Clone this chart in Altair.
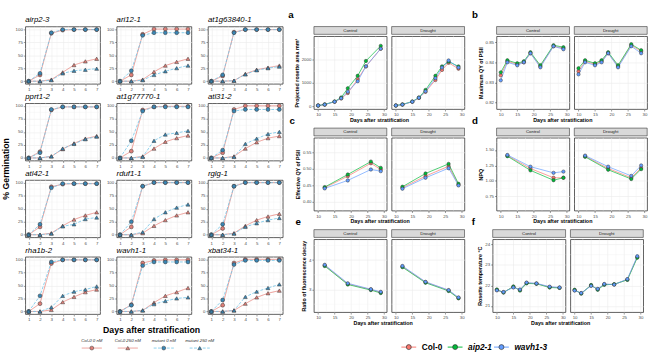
import altair as alt
import pandas as pd

FONT = "Liberation Sans"

# ---------------- germination data (left block) ----------------
days = [1, 2, 3, 4, 5, 6, 7]
days_minor = [1.5, 2.5, 3.5, 4.5, 5.5, 6.5]
pct_ticks = [0, 25, 50, 75, 100]
pct_minor = [12.5, 37.5, 62.5, 87.5]
mutants = ["airp2-3", "ari12-1", "at1g63840-1",
           "pprt1-2", "at1g77770-1", "atl31-2",
           "atl42-1", "rduf1-1", "rglg-1",
           "rha1b-2", "wavh1-1", "xbat34-1"]
series_names = ["Col-0 0 nM", "Col-0 250 nM", "mutant 0 nM", "mutant 250 nM"]

col0_0nM = [
    [0, 12, 92, 98, 99, 99, 99], [0, 12, 90, 100, 100, 100, 100], [0, 10, 94, 99, 99, 99, 99],
    [0, 12, 92, 98, 98, 98, 98], [0, 13, 92, 98, 99, 99, 99], [0, 10, 93, 100, 100, 100, 100],
    [0, 15, 92, 97, 98, 98, 98], [0, 15, 93, 100, 100, 100, 100], [0, 12, 93, 100, 100, 100, 100],
    [0, 15, 92, 99, 99, 99, 99], [0, 13, 93, 98, 99, 99, 99], [0, 12, 93, 100, 100, 100, 100]]
col0_250nM = [
    [0, 0, 3, 17, 31, 38, 43], [0, 0, 3, 18, 30, 37, 43], [0, 0, 1, 14, 22, 26, 30],
    [0, 0, 3, 17, 28, 37, 42], [0, 0, 3, 18, 31, 38, 43], [0, 0, 3, 18, 30, 38, 42],
    [0, 0, 3, 17, 29, 37, 43], [0, 0, 3, 17, 28, 37, 43], [0, 0, 3, 17, 28, 35, 40],
    [0, 0, 3, 18, 28, 37, 42], [0, 0, 2, 17, 30, 37, 45], [0, 0, 2, 15, 27, 35, 40]]
mut_0nM = [
    [0, 15, 93, 99, 99, 99, 99], [0, 20, 88, 93, 93, 93, 93], [0, 12, 93, 99, 99, 99, 99],
    [0, 10, 93, 98, 98, 98, 98], [0, 33, 90, 98, 98, 98, 98], [0, 15, 90, 93, 93, 93, 93],
    [0, 20, 90, 98, 98, 98, 98], [0, 25, 93, 100, 100, 100, 100], [0, 20, 93, 100, 100, 100, 100],
    [0, 30, 95, 99, 99, 99, 99], [0, 12, 88, 95, 95, 95, 95], [0, 22, 90, 98, 98, 98, 98]]
mut_250nM = [
    [0, 0, 2, 15, 20, 22, 24], [0, 0, 2, 12, 19, 25, 30], [0, 0, 1, 13, 21, 25, 28],
    [0, 0, 3, 18, 27, 36, 41], [0, 0, 2, 33, 45, 48, 52], [0, 0, 2, 27, 37, 46, 50],
    [0, 0, 2, 16, 20, 30, 33], [0, 0, 5, 30, 43, 52, 58], [0, 0, 2, 15, 22, 28, 32],
    [0, 0, 8, 30, 38, 42, 48], [0, 0, 2, 14, 20, 25, 27], [0, 0, 2, 28, 38, 45, 52]]

# ---------------- phenotyping data (right block) ----------------
genotypes = ["Col-0", "aip2-1", "wavh1-3"]
day_ticks = [10, 15, 20, 25, 30]
day_minor = [12.5, 17.5, 22.5, 27.5]

area_days_ctrl = [10, 12, 15, 17, 19, 22, 24.5, 29]
area_ctrl = [[40, 80, 200, 340, 570, 1150, 1700, 2450],
             [40, 85, 210, 380, 770, 1300, 1930, 2570],
             [40, 80, 200, 350, 620, 1070, 1700, 2450]]
area_days_dr = [10, 12, 15, 17, 19, 22, 24, 26, 29]
area_dr = [[40, 80, 200, 360, 620, 1120, 1550, 1850, 1600],
           [40, 85, 210, 380, 700, 1300, 1700, 1900, 1700],
           [40, 80, 200, 370, 640, 1200, 1650, 1950, 1650]]
area_ticks, area_minor = [0, 1000, 2000], [500, 1500, 2500]

fvfm_days = [10, 12, 15, 17, 19, 22, 26, 29]
fvfm_ctrl = [[0.8335, 0.8405, 0.8390, 0.8400, 0.8445, 0.8380, 0.8480, 0.8470],
             [0.8350, 0.8410, 0.8395, 0.8405, 0.8450, 0.8385, 0.8485, 0.8475],
             [0.8310, 0.8400, 0.8385, 0.8400, 0.8445, 0.8375, 0.8480, 0.8465]]
fvfm_dr = [[0.8355, 0.8405, 0.8390, 0.8405, 0.8445, 0.8380, 0.8485, 0.8455],
           [0.8370, 0.8410, 0.8395, 0.8410, 0.8450, 0.8385, 0.8490, 0.8460],
           [0.8340, 0.8400, 0.8385, 0.8400, 0.8445, 0.8375, 0.8480, 0.8445]]
fvfm_ticks, fvfm_minor = [0.82, 0.83, 0.84, 0.85], [0.825, 0.835, 0.845]

fl_days = [12, 19, 26, 29]
qy_ctrl = [[0.443, 0.478, 0.517, 0.498],
           [0.445, 0.483, 0.522, 0.503],
           [0.441, 0.465, 0.498, 0.493]]
qy_dr = [[0.443, 0.478, 0.508, 0.452],
         [0.446, 0.486, 0.515, 0.455],
         [0.440, 0.473, 0.502, 0.450]]
qy_ticks, qy_minor = [0.40, 0.45, 0.50, 0.55], [0.425, 0.475, 0.525, 0.575]
npq_ctrl = [[1.41, 1.20, 1.05, 1.05],
            [1.40, 1.17, 1.01, 1.05],
            [1.42, 1.23, 1.13, 1.15]]
npq_dr = [[1.40, 1.20, 1.05, 1.21],
          [1.39, 1.18, 1.03, 1.19],
          [1.41, 1.23, 1.08, 1.25]]
npq_ticks, npq_minor = [0.75, 1.00, 1.25, 1.50], [0.625, 0.875, 1.125, 1.375, 1.625]
rfd_ctrl = [[3.82, 3.19, 3.00, 2.90],
            [3.80, 3.17, 2.98, 2.88],
            [3.84, 3.21, 3.01, 2.92]]
rfd_dr = [[3.78, 3.25, 2.97, 2.71],
          [3.76, 3.23, 2.95, 2.70],
          [3.80, 3.26, 2.98, 2.73]]
rfd_ticks, rfd_minor = [3, 4], [2.5, 3.5, 4.5]

temp_days = [10, 12, 15, 17, 19, 22, 26, 29]
temp_ctrl = [[21.78, 21.67, 21.93, 21.78, 22.12, 22.09, 21.92, 21.89],
             [21.80, 21.65, 21.95, 21.75, 22.10, 22.08, 21.90, 21.88],
             [21.76, 21.68, 21.90, 21.80, 22.14, 22.10, 21.94, 21.90]]
temp_dr = [[21.77, 21.62, 22.00, 21.81, 22.05, 22.05, 22.29, 23.38],
           [21.79, 21.60, 22.02, 21.79, 22.03, 22.06, 22.27, 23.35],
           [21.75, 21.63, 21.98, 21.83, 22.07, 22.04, 22.31, 23.42]]
temp_ticks, temp_minor = [21, 22, 23, 24], [21.5, 22.5, 23.5]

# ---------------- styles ----------------
germ_line = ["#E8837B", "#E8837B", "#6EC3E8", "#6EC3E8"]
germ_fill = ["#DE7F78", "#DE7F78", "#3A86B4", "#3A86B4"]
germ_shape = ["circle", "triangle-up", "circle", "triangle-up"]
germ_dash = [[1, 0], [1, 0], [3, 1.5], [3, 1.5]]
geno_colors = ["#F8766D", "#00BA38", "#619CFF"]
MINOR = "#F2F2F2"

s_col = alt.Scale(domain=series_names, range=germ_line)
s_fill = alt.Scale(domain=series_names, range=germ_fill)
s_shape = alt.Scale(domain=series_names, range=germ_shape)
s_dash = alt.Scale(domain=series_names, range=germ_dash)
g_col = alt.Scale(domain=genotypes, range=geno_colors)

LW, LH = 77, 59


def minor_grid(xfield, xvals, yfield, yvals, x, y):
    vx = alt.Chart(pd.DataFrame({xfield: xvals})).mark_rule(
        color=MINOR, strokeWidth=0.4).encode(x=x)
    hy = alt.Chart(pd.DataFrame({yfield: yvals})).mark_rule(
        color=MINOR, strokeWidth=0.4).encode(y=y)
    return vx, hy


def germ_panel(i):
    rows = []
    for s, arr in zip(series_names, [col0_0nM, col0_250nM, mut_0nM, mut_250nM]):
        for d, v in zip(days, arr[i]):
            rows.append({"day": d, "pct": v, "series": s})
    df = pd.DataFrame(rows)
    x = alt.X("day:Q", scale=alt.Scale(domain=[0.7, 7.3], nice=False, zero=False),
              axis=alt.Axis(values=days, title=None, format="d"))
    y = alt.Y("pct:Q", scale=alt.Scale(domain=[-5, 105], nice=False, zero=False),
              axis=alt.Axis(values=pct_ticks, title=None))
    vx, hy = minor_grid("day", days_minor, "pct", pct_minor, x, y)
    base = alt.Chart(df)
    line = base.mark_line(strokeWidth=0.8).encode(
        x=x, y=y,
        color=alt.Color("series:N", scale=s_col, legend=None),
        strokeDash=alt.StrokeDash("series:N", scale=s_dash, legend=None))
    pts = base.mark_point(filled=True, size=16, stroke="#333333", strokeWidth=0.5, opacity=1).encode(
        x=x, y=y,
        fill=alt.Fill("series:N", scale=s_fill, legend=None),
        shape=alt.Shape("series:N", scale=s_shape, legend=None))
    return alt.layer(vx, hy, line, pts).properties(
        width=LW, height=LH,
        title=alt.Title(mutants[i], font=FONT, fontSize=8, fontStyle="italic", fontWeight="normal",
                        anchor="start", frame="group", offset=2, color="#000000"))


RW, RH = 75, 75


def strip(label):
    return alt.Chart(pd.DataFrame({"lab": [label]})).mark_text(
        font=FONT, fontSize=4.5, color="#1A1A1A").encode(
        text="lab:N", x=alt.value(RW / 2), y=alt.value(4.5)).properties(
        width=RW, height=8,
        view=alt.ViewBackground(fill="#D9D9D9", stroke="#333333", strokeWidth=0.6))


def sub_plot(dlist, vals, ydom, yticks, yminor, yfmt, ytitle, show_y):
    rows = []
    for g, arr in zip(genotypes, vals):
        for d, v in zip(dlist, arr):
            rows.append({"day": d, "val": v, "geno": g})
    df = pd.DataFrame(rows)
    x = alt.X("day:Q", scale=alt.Scale(domain=[8.7, 30.8], nice=False, zero=False),
              axis=alt.Axis(values=day_ticks, title=None, format="d"))
    if show_y:
        yax = alt.Axis(values=yticks, title=ytitle, format=yfmt)
    else:
        yax = alt.Axis(values=yticks, title=None, labels=False, ticks=False)
    y = alt.Y("val:Q", scale=alt.Scale(domain=ydom, nice=False, zero=False), axis=yax)
    vx, hy = minor_grid("day", day_minor, "val", [m for m in yminor if ydom[0] < m < ydom[1]], x, y)
    base = alt.Chart(df)
    line = base.mark_line(strokeWidth=0.7).encode(
        x=x, y=y, color=alt.Color("geno:N", scale=g_col, legend=None))
    pts = base.mark_point(filled=True, size=12, stroke="#333333", strokeWidth=0.5, opacity=1).encode(
        x=x, y=y, fill=alt.Fill("geno:N", scale=g_col, legend=None))
    return alt.layer(vx, hy, line, pts).properties(width=RW, height=RH)


def panel(letter, ytitle, dc, vc, dd, vd, ydom, yticks, yminor, yfmt, loff):
    c = alt.vconcat(strip("Control"),
                    sub_plot(dc, vc, ydom, yticks, yminor, yfmt, ytitle, True), spacing=0)
    d = alt.vconcat(strip("Drought"),
                    sub_plot(dd, vd, ydom, yticks, yminor, yfmt, ytitle, False), spacing=0)
    pair = alt.hconcat(c, d, spacing=3,
                       title=alt.Title("Days after stratification", orient="bottom", font=FONT,
                                       fontSize=5.5, fontWeight="bold", anchor="middle", offset=1))
    return alt.vconcat(pair, title=alt.Title(letter, font=FONT, fontSize=10, fontWeight="bold",
                                             anchor="start", offset=loff, dx=-6))


# ---------------- left block ----------------
grid = alt.concat(*[germ_panel(i) for i in range(12)], columns=3,
                  spacing={"row": 1, "column": 5},
                  title=alt.Title("% Germination", orient="left", font=FONT, fontSize=9,
                                  fontWeight="bold", anchor="middle", offset=4))

leg_df = pd.DataFrame({"series": series_names, "i": list(range(4))})
lx = alt.Scale(domain=[-1.85, 5.2], nice=False, zero=False)
lbase = alt.Chart(leg_df).transform_calculate(l="datum.i - 0.28", r="datum.i + 0.28")
l_rule = lbase.mark_rule(strokeWidth=0.8).encode(
    x=alt.X("l:Q", scale=lx, axis=None), x2="r:Q", y=alt.value(26),
    color=alt.Color("series:N", scale=s_col, legend=None),
    strokeDash=alt.StrokeDash("series:N", scale=s_dash, legend=None))
l_pts = lbase.mark_point(filled=True, size=16, stroke="#333333", strokeWidth=0.5, opacity=1).encode(
    x=alt.X("i:Q", scale=lx, axis=None), y=alt.value(26),
    fill=alt.Fill("series:N", scale=s_fill, legend=None),
    shape=alt.Shape("series:N", scale=s_shape, legend=None))
l_txt = lbase.mark_text(font=FONT, fontSize=4.5, fontStyle="italic", color="#333333").encode(
    x=alt.X("i:Q", scale=lx, axis=None), y=alt.value(19), text="series:N")
l_title = alt.Chart(pd.DataFrame({"t": ["Days after stratification"]})).mark_text(
    font=FONT, fontSize=9, fontWeight="bold", color="#000000").encode(
    text="t:N", x=alt.value(130), y=alt.value(8))
legend_left = alt.layer(l_rule, l_pts, l_txt, l_title).properties(
    width=261, height=29, view=alt.ViewBackground(stroke="transparent"))

left = alt.vconcat(grid, legend_left, spacing=0)

# ---------------- right block ----------------
pa = panel("a", "Projected rosette area mm²", area_days_ctrl, area_ctrl, area_days_dr, area_dr,
           [-110, 2980], area_ticks, area_minor, "d", 6)
pb = panel("b", "Maximum QY of PSII", fvfm_days, fvfm_ctrl, fvfm_days, fvfm_dr,
           [0.8167, 0.853], fvfm_ticks, fvfm_minor, ".2f", 6)
pc = panel("c", "Effective QY of PSII", fl_days, qy_ctrl, fl_days, qy_dr,
           [0.374, 0.594], qy_ticks, qy_minor, ".2f", 2)
pd_ = panel("d", "NPQ", fl_days, npq_ctrl, fl_days, npq_dr,
            [0.517, 1.70], npq_ticks, npq_minor, ".2f", 2)
pe = panel("e", "Ratio of fluorescence decay", fl_days, rfd_ctrl, fl_days, rfd_dr,
           [2.23, 4.71], rfd_ticks, rfd_minor, "d", 2)
pf = panel("f", "Rosette temperature °C", temp_days, temp_ctrl, temp_days, temp_dr,
           [20.7, 24.25], temp_ticks, temp_minor, "d", 2)

rg_df = pd.DataFrame({"geno": genotypes, "i": list(range(3))})
rx = alt.Scale(domain=[-2.05, 4.85], nice=False, zero=False)
rbase = alt.Chart(rg_df).transform_calculate(l="datum.i - 0.16", r="datum.i + 0.16", t="datum.i + 0.28")
r_rule = rbase.mark_rule(strokeWidth=1).encode(
    x=alt.X("l:Q", scale=rx, axis=None), x2="r:Q", y=alt.value(6),
    color=alt.Color("geno:N", scale=g_col, legend=None))
r_pts = rbase.mark_point(filled=True, size=26, stroke="#333333", strokeWidth=0.7, opacity=1).encode(
    x=alt.X("i:Q", scale=rx, axis=None), y=alt.value(6),
    fill=alt.Fill("geno:N", scale=g_col, legend=None))
r_txt1 = rbase.transform_filter("datum.i == 0").mark_text(
    font=FONT, fontSize=8.5, fontWeight="bold", align="left", color="#000000").encode(
    x=alt.X("t:Q", scale=rx, axis=None), y=alt.value(6), text="geno:N")
r_txt2 = rbase.transform_filter("datum.i > 0").mark_text(
    font=FONT, fontSize=8.5, fontWeight="bold", fontStyle="italic", align="left", color="#000000").encode(
    x=alt.X("t:Q", scale=rx, axis=None), y=alt.value(6), text="geno:N")
legend_right = alt.layer(r_rule, r_pts, r_txt1, r_txt2).properties(
    width=329, height=12, view=alt.ViewBackground(stroke="transparent"))

rows_right = alt.vconcat(alt.hconcat(pa, pb, spacing=6),
                         alt.hconcat(pc, pd_, spacing=6),
                         alt.hconcat(pe, pf, spacing=6),
                         spacing=-8.5)
right = alt.vconcat(rows_right, legend_right, spacing=14)

chart = alt.hconcat(left, right, spacing=4).resolve_scale(
    color="independent", fill="independent"
).configure(
    padding={"left": 2, "top": 5, "right": 2, "bottom": 0},
    font=FONT,
).configure_view(
    stroke="#333333", strokeWidth=0.8
).configure_axis(
    labelFont=FONT, labelFontSize=4.5, labelColor="#4D4D4D", labelPadding=1,
    tickColor="#333333", tickSize=2, tickWidth=0.5,
    domain=False, grid=True, gridColor="#EBEBEB", gridWidth=0.6,
    titleFont=FONT, titleFontSize=5.5, titleFontWeight="bold", titleColor="#000000", titlePadding=2
).configure_concat(spacing=4)

chart.save("out.html", embed_options={"renderer": "svg", "actions": False})
